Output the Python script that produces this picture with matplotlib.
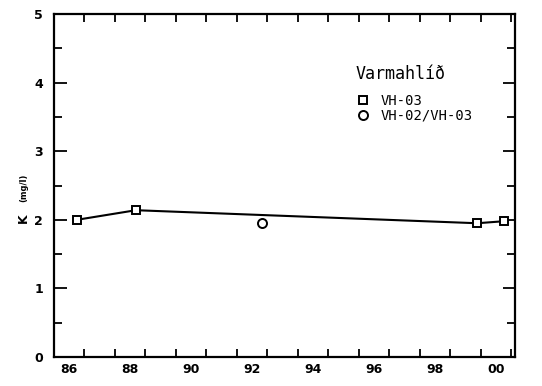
import matplotlib.pyplot as plt
from matplotlib.lines import Line2D
import numpy as np

# VH-03 samples (decimal year, K in mg/l)
vh03_year = [1986.75, 1988.69, 1999.89, 2000.78]
vh03_k = [2.00, 2.14, 1.95, 1.98]

# VH-02/VH-03 sample
vh0203_year = [1992.82]
vh0203_k = [1.96]

year_ticks = list(range(1986, 2002))
label_years = list(range(1986, 2001, 2))
label_text = ['86', '88', '90', '92', '94', '96', '98', '00']

fig = plt.figure(figsize=(5.42, 3.86), dpi=100)
ax = fig.add_axes([0.0996, 0.0751, 0.8506, 0.8886])

ax.plot(vh03_year, vh03_k, color='black', linewidth=1.5,
        marker='s', markersize=6, markerfacecolor='white',
        markeredgecolor='black', markeredgewidth=1.4)
ax.plot(vh0203_year, vh0203_k, linestyle='none', color='black',
        marker='o', markersize=6.5, markerfacecolor='white',
        markeredgecolor='black', markeredgewidth=1.4)

ax.set_xlim(1986, 2001.13)
ax.set_ylim(0, 5)

# year boundaries as ticks, labels centred in the year
ax.set_xticks(year_ticks)
ax.set_xticklabels([])
ax.set_xticks([y + 0.5 for y in label_years], minor=True)
ax.set_xticklabels(label_text, minor=True)
ax.tick_params(axis='x', which='major', direction='in', length=6, width=1.3,
               top=True, bottom=True)
ax.tick_params(axis='x', which='minor', length=0, pad=4,
               labelsize=9)

ax.set_yticks(range(0, 6))
ax.set_yticks(np.arange(0, 5.01, 0.5), minor=True)
ax.tick_params(axis='y', which='major', direction='in', length=9, width=1.3,
               left=True, right=True, labelsize=9, pad=8)
ax.tick_params(axis='y', which='minor', direction='in', length=6, width=1.3,
               left=True, right=True)

for lab in ax.get_xticklabels(minor=True) + ax.get_yticklabels():
    lab.set_fontweight('bold')

for s in ax.spines.values():
    s.set_linewidth(1.6)

fig.text(23 / 542, 1 - 218 / 386, 'K', rotation=90, ha='center', va='center',
         fontsize=9, fontweight='bold')
fig.text(24 / 542, 1 - 188 / 386, '(mg/l)', rotation=90, ha='center',
         va='center', fontsize=6, fontweight='bold')

# legend: title as plain text, entries marker-only
fig.text(356 / 542, 1 - 74 / 386, 'Varmahlíð', ha='left', va='center',
         family='DejaVu Sans Mono', fontsize=12)
handles = [
    Line2D([], [], linestyle='none', marker='s', markersize=6,
           markerfacecolor='white', markeredgecolor='black',
           markeredgewidth=1.4),
    Line2D([], [], linestyle='none', marker='o', markersize=6.5,
           markerfacecolor='white', markeredgecolor='black',
           markeredgewidth=1.4),
]
ax.legend(handles, ['VH-03', 'VH-02/VH-03'], loc='upper left',
          bbox_to_anchor=(0.637, 0.795),
          bbox_transform=ax.transAxes, frameon=False,
          prop={'family': 'DejaVu Sans Mono', 'size': 10},
          handlelength=0.8, handletextpad=0.9, labelspacing=0.05,
          borderpad=0.2)

fig.savefig('out.png', dpi=100, facecolor='white')
